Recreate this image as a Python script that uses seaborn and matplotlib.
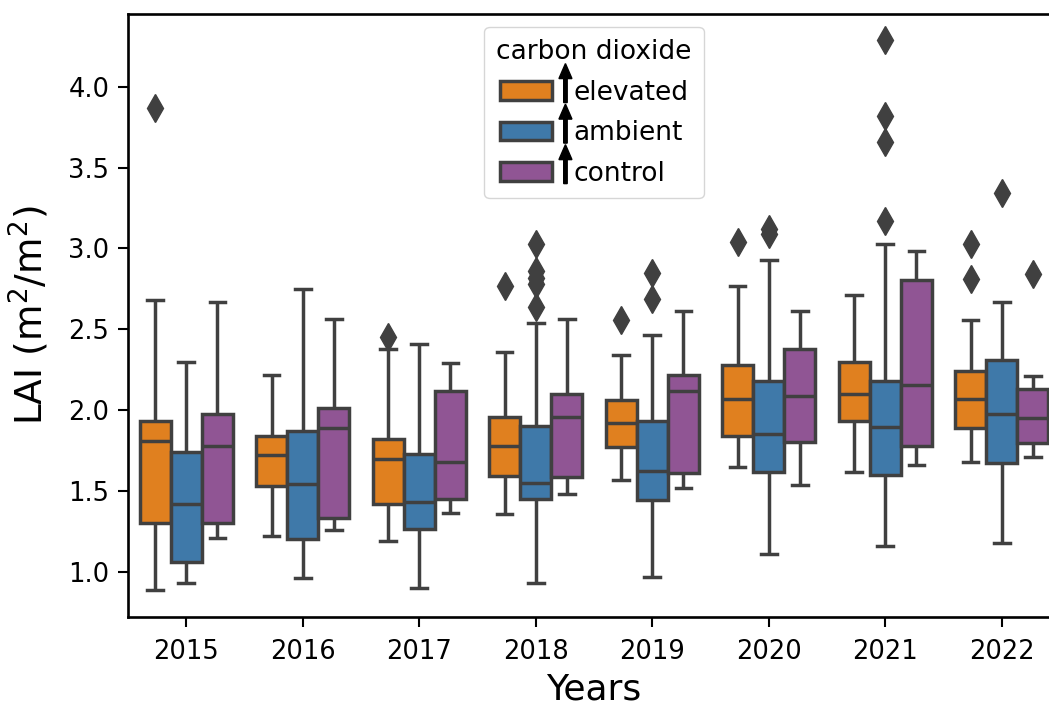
import numpy as np
import pandas as pd
import matplotlib
matplotlib.use("Agg")
import matplotlib.pyplot as plt
from matplotlib.patches import FancyArrow
from matplotlib.transforms import IdentityTransform
import seaborn as sns

# Leaf area index per year and CO2 treatment (box summaries)
years = ["2015", "2016", "2017", "2018", "2019", "2020", "2021", "2022"]
treatments = ["elevated", "ambient", "control"]

elevated_low = [0.89, 1.22, 1.19, 1.36, 1.57, 1.65, 1.62, 1.68]
elevated_q1 = [1.30, 1.53, 1.42, 1.59, 1.77, 1.84, 1.935, 1.89]
elevated_median = [1.81, 1.72, 1.70, 1.78, 1.92, 2.07, 2.10, 2.07]
elevated_q3 = [1.93, 1.84, 1.82, 1.96, 2.06, 2.28, 2.30, 2.24]
elevated_high = [2.68, 2.22, 2.38, 2.36, 2.34, 2.77, 2.71, 2.555]
elevated_outliers = [[3.87], [], [2.45], [2.77], [2.56], [3.04], [], [2.81, 3.03]]

ambient_low = [0.93, 0.96, 0.90, 0.93, 0.965, 1.11, 1.16, 1.18]
ambient_q1 = [1.06, 1.20, 1.265, 1.45, 1.445, 1.62, 1.60, 1.67]
ambient_median = [1.42, 1.54, 1.43, 1.55, 1.625, 1.855, 1.895, 1.975]
ambient_q3 = [1.74, 1.87, 1.73, 1.90, 1.93, 2.18, 2.18, 2.31]
ambient_high = [2.295, 2.75, 2.41, 2.54, 2.465, 2.93, 3.03, 2.67]
ambient_outliers = [[], [], [], [2.64, 2.78, 2.82, 2.86, 3.03], [2.69, 2.85],
                    [3.09, 3.12], [3.17, 3.66, 3.82, 4.29], [3.34]]

control_low = [1.21, 1.26, 1.365, 1.48, 1.52, 1.535, 1.66, 1.71]
control_q1 = [1.30, 1.335, 1.45, 1.585, 1.61, 1.80, 1.775, 1.795]
control_median = [1.775, 1.89, 1.68, 1.96, 2.12, 2.09, 2.155, 1.95]
control_q3 = [1.975, 2.015, 2.12, 2.10, 2.215, 2.38, 2.805, 2.13]
control_high = [2.67, 2.565, 2.29, 2.565, 2.61, 2.61, 2.985, 2.21]
control_outliers = [[], [], [], [], [], [], [], [2.84]]

colors = ["#e0801f", "#3f79a9", "#905594"]
line_color = "#404040"

summaries = {
    "elevated": (elevated_low, elevated_q1, elevated_median, elevated_q3,
                 elevated_high, elevated_outliers),
    "ambient": (ambient_low, ambient_q1, ambient_median, ambient_q3,
                ambient_high, ambient_outliers),
    "control": (control_low, control_q1, control_median, control_q3,
                control_high, control_outliers),
}

# Expand each summary into observations whose quartiles, whiskers and
# fliers reproduce it under the standard 1.5*IQR rule.
rows = []
k = 20
for trt, (lo, q1, med, q3, hi, outs) in summaries.items():
    for i, yr in enumerate(years):
        vals = [lo[i]] + [q1[i]] * k + [med[i]] * k + [q3[i]] * k + [hi[i]] + list(outs[i])
        rows.extend({"Years": yr, "carbon dioxide": trt, "LAI": v} for v in vals)
df = pd.DataFrame(rows)

plt.rcParams["font.family"] = ["DejaVu Sans"]
fig = plt.figure(figsize=(10.49, 7.07), dpi=100)
ax = fig.add_axes([128 / 1049, 1 - 617 / 707, 932 / 1049, 603 / 707])

sns.boxplot(
    data=df, x="Years", y="LAI", hue="carbon dioxide",
    order=years, hue_order=treatments, palette=colors, saturation=1,
    linecolor=line_color, linewidth=2.5, fliersize=14,
    flierprops=dict(marker="d", markerfacecolor=line_color,
                    markeredgecolor=line_color),
    ax=ax,
)

ax.set_xlim(-0.5, 7.5)
ax.set_ylim(0.72, 4.45)
ax.set_yticks([1.0, 1.5, 2.0, 2.5, 3.0, 3.5, 4.0])
ax.set_xlabel("Years", fontsize=26, labelpad=5)
ax.set_ylabel("LAI (m$^2$/m$^2$)", fontsize=27, labelpad=12)
ax.tick_params(axis="both", labelsize=18.5, length=7, width=1.5)
ax.tick_params(axis="y", pad=6.5)
ax.tick_params(axis="x", pad=9)
for sp in ax.spines.values():
    sp.set_linewidth(1.9)

handles, _ = ax.get_legend_handles_labels()
leg = ax.legend(handles, treatments, title="carbon dioxide", loc="upper center",
                fontsize=19, title_fontsize=19, handletextpad=0.8,
                borderpad=0.45, labelspacing=0.55)

# Upward arrows in front of each treatment name
fig.canvas.draw()
renderer = fig.canvas.get_renderer()
for txt in leg.get_texts():
    bb = txt.get_window_extent(renderer)
    cy = 0.5 * (bb.y0 + bb.y1)
    x = bb.x0 - 8
    arrow = FancyArrow(x, cy - 10, 0, 39, width=3.5, head_width=13,
                       head_length=15, length_includes_head=True,
                       color="black", transform=IdentityTransform())
    fig.add_artist(arrow)

fig.savefig("out.png", dpi=100)
